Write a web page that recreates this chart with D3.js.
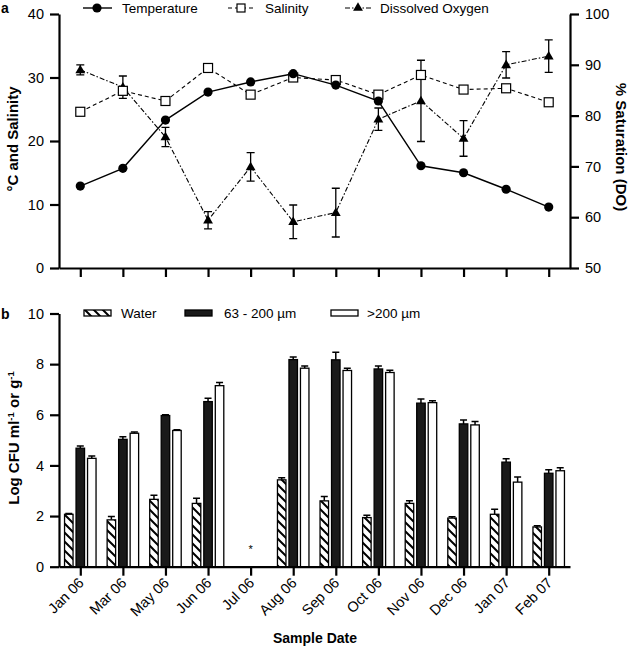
<!DOCTYPE html>
<html><head><meta charset="utf-8">
<script src="https://cdn.jsdelivr.net/npm/d3@7"></script>
<style>
body{margin:0;background:#fff;}
svg text{font-family:"Liberation Sans",Arial,Helvetica,sans-serif;fill:#000;}
</style></head>
<body><svg id="c" width="633" height="647"></svg>
<script>
const categories = ["Jan 06","Mar 06","May 06","Jun 06","Jul 06","Aug 06","Sep 06","Oct 06","Nov 06","Dec 06","Jan 07","Feb 07"];
// Panel a
const temperature = [12.9,15.7,23.3,27.7,29.3,30.6,28.8,26.3,16.1,15.0,12.4,9.6];
const salinity    = [24.6,27.9,26.3,31.5,27.3,30.0,29.6,27.3,30.4,28.1,28.3,26.1];
const dissolvedO2 = [89.0,85.6,75.8,59.4,69.9,59.1,60.9,79.3,82.9,75.5,90.0,91.7];
const dissolvedO2Err = [1.0,2.2,1.9,1.7,2.8,3.3,4.8,2.2,8.0,3.5,2.6,3.2];
const leftTicks = [0,10,20,30,40];
const rightTicks = [50,60,70,80,90,100];
// Panel b (null = not detected)
const water     = [2.07,1.85,2.66,2.50,null,3.43,2.60,1.94,2.50,1.92,2.07,1.57];
const waterErr  = [0.03,0.13,0.16,0.20,null,0.08,0.17,0.09,0.10,0.05,0.20,0.05];
const mid       = [4.68,5.03,5.97,6.52,null,8.18,8.17,7.81,6.46,5.64,4.13,3.69];
const midErr    = [0.09,0.10,0.03,0.13,null,0.10,0.30,0.12,0.16,0.15,0.13,0.14];
const large     = [4.28,5.27,5.38,7.15,null,7.84,7.75,7.67,6.48,5.60,3.34,3.79];
const largeErr  = [0.09,0.05,0.03,0.12,null,0.09,0.09,0.09,0.07,0.13,0.20,0.12];
const bTicks = [0,2,4,6,8,10];

const svg = d3.select("#c");
const FS = 13.5, TFS = 14.5, AFS = 15;
const defs = svg.append("defs");
const pat = defs.append("pattern").attr("id","hatch").attr("patternUnits","userSpaceOnUse")
  .attr("width",9).attr("height",9);
pat.append("rect").attr("width",9).attr("height",9).attr("fill","#fff");
pat.append("path").attr("d","M-2,-2L11,11M-2,7L2,11M7,-2L11,2").attr("stroke","#000").attr("stroke-width",2);

const x = d3.scalePoint().domain(categories).range([59,570]).padding(0.5);

function styleAxis(g){
  g.selectAll(".domain").attr("stroke","#000").attr("stroke-width",2.2);
  g.selectAll(".tick line").attr("stroke","#000").attr("stroke-width",2.2);
  g.selectAll(".tick text").attr("font-size",TFS).style("font-family",'"Liberation Sans",Arial,sans-serif');
}

// ---------- Panel a ----------
const yL = d3.scaleLinear().domain([0,40]).range([268,14]);
const yR = d3.scaleLinear().domain([50,100]).range([268,14]);

svg.append("g").attr("transform","translate(0,268)")
  .call(d3.axisBottom(x).tickSize(9).tickSizeOuter(0).tickFormat(""))
  .call(styleAxis);
svg.append("g").attr("transform","translate(59,0)")
  .call(d3.axisLeft(yL).tickValues(leftTicks).tickSize(9).tickSizeOuter(0).tickPadding(6))
  .call(styleAxis);
svg.append("g").attr("transform","translate(570,0)")
  .call(d3.axisRight(yR).tickValues(rightTicks).tickSize(9).tickSizeOuter(0).tickPadding(6))
  .call(styleAxis);

// DO line
const doLine = d3.line().x((d,i)=>x(categories[i])).y(d=>yR(d));
svg.append("path").datum(dissolvedO2).attr("d",doLine).attr("fill","none")
  .attr("stroke","#000").attr("stroke-width",1.1).attr("stroke-dasharray","5,2,1.5,2");
const eb = svg.append("g");
dissolvedO2.forEach((v,i)=>{
  const cx = x(categories[i]), t = yR(v+dissolvedO2Err[i]), b = yR(v-dissolvedO2Err[i]);
  eb.append("path").attr("d",`M${cx},${t}V${b}M${cx-4},${t}H${cx+4}M${cx-4},${b}H${cx+4}`)
    .attr("stroke","#000").attr("stroke-width",1.3).attr("fill","none");
});
const tri = d3.symbol().type(d3.symbolTriangle).size(42);
svg.append("g").selectAll("path").data(dissolvedO2).join("path")
  .attr("d",tri).attr("transform",(d,i)=>`translate(${x(categories[i])},${yR(d)+0.5})`).attr("fill","#000");

// Salinity
const salLine = d3.line().x((d,i)=>x(categories[i])).y(d=>yL(d));
svg.append("path").datum(salinity).attr("d",salLine).attr("fill","none")
  .attr("stroke","#000").attr("stroke-width",1.1).attr("stroke-dasharray","4,3");
svg.append("g").selectAll("rect").data(salinity).join("rect")
  .attr("x",(d,i)=>x(categories[i])-4.5).attr("y",d=>yL(d)-4.5).attr("width",9).attr("height",9)
  .attr("fill","#fff").attr("stroke","#000").attr("stroke-width",1.2);

// Temperature
svg.append("path").datum(temperature).attr("d",salLine).attr("fill","none")
  .attr("stroke","#000").attr("stroke-width",1.4);
svg.append("g").selectAll("circle").data(temperature).join("circle")
  .attr("cx",(d,i)=>x(categories[i])).attr("cy",d=>yL(d)).attr("r",4.6).attr("fill","#000");

// legend a
const la = svg.append("g");
const ly = 8;
la.append("line").attr("x1",83).attr("x2",112).attr("y1",ly).attr("y2",ly).attr("stroke","#000").attr("stroke-width",1.4);
la.append("circle").attr("cx",97).attr("cy",ly).attr("r",4.6);
la.append("text").attr("x",122).attr("y",ly+5).attr("font-size",FS).text("Temperature");
la.append("line").attr("x1",228).attr("x2",255).attr("y1",ly).attr("y2",ly).attr("stroke","#000").attr("stroke-width",1.1).attr("stroke-dasharray","4,3");
la.append("rect").attr("x",237).attr("y",ly-4).attr("width",8).attr("height",8).attr("fill","#fff").attr("stroke","#000").attr("stroke-width",1.2);
la.append("text").attr("x",265).attr("y",ly+5).attr("font-size",FS).text("Salinity");
la.append("line").attr("x1",345).attr("x2",372).attr("y1",ly).attr("y2",ly).attr("stroke","#000").attr("stroke-width",1.1).attr("stroke-dasharray","5,2,1.5,2");
la.append("path").attr("d",tri).attr("transform",`translate(358,${ly})`);
la.append("text").attr("x",380).attr("y",ly+5).attr("font-size",FS).text("Dissolved Oxygen");

svg.append("text").attr("x",1).attr("y",13).attr("font-size",14).attr("font-weight","bold").text("a");
svg.append("text").attr("transform","translate(18,139) rotate(-90)").attr("text-anchor","middle")
  .attr("font-size",AFS).attr("font-weight","bold").text("°C and Salinity");
svg.append("text").attr("transform","translate(616,147) rotate(90)").attr("text-anchor","middle")
  .attr("font-size",AFS).attr("font-weight","bold").text("% Saturation (DO)");

// ---------- Panel b ----------
const yB = d3.scaleLinear().domain([0,10]).range([566.7,313.5]);
const bw = 8.5, off = 11.5;
const series = [
  {vals:water, err:waterErr, dx:-off, fill:"url(#hatch)"},
  {vals:mid, err:midErr, dx:0, fill:"#1a1a1a"},
  {vals:large, err:largeErr, dx:off, fill:"#fff"}
];
const gb = svg.append("g");
series.forEach(s=>{
  s.vals.forEach((v,i)=>{
    if(v==null) return;
    const cx = x(categories[i])+s.dx;
    const et = yB(v+s.err[i]);
    gb.append("path").attr("d",`M${cx},${yB(v)}V${et}M${cx-3.5},${et}H${cx+3.5}`)
      .attr("stroke","#000").attr("stroke-width",1.5).attr("fill","none");
    gb.append("rect").attr("x",cx-bw/2).attr("y",yB(v)).attr("width",bw).attr("height",yB(0)-yB(v))
      .attr("fill",s.fill).attr("stroke","#000").attr("stroke-width",1.3);
  });
});
svg.append("text").attr("x",x("Jul 06")).attr("y",553).attr("text-anchor","middle").attr("font-size",11).text("*");

svg.append("g").attr("transform","translate(0,566.7)")
  .call(d3.axisBottom(x).tickSize(9).tickSizeOuter(0).tickPadding(4))
  .call(styleAxis)
  .call(g=>g.selectAll(".tick text").attr("text-anchor","end").attr("dy",null)
     .attr("transform","translate(4,17) rotate(-45)").attr("y",0).attr("x",0));
svg.append("g").attr("transform","translate(59,0)")
  .call(d3.axisLeft(yB).tickValues(bTicks).tickSize(9).tickSizeOuter(0).tickPadding(6))
  .call(styleAxis);

// legend b
const lb = svg.append("g");
const lby = 313;
lb.append("rect").attr("x",84).attr("y",lby-3).attr("width",27).attr("height",6).attr("fill","url(#hatch)").attr("stroke","#000").attr("stroke-width",1.3);
lb.append("text").attr("x",121).attr("y",lby+5).attr("font-size",FS).text("Water");
lb.append("rect").attr("x",185).attr("y",lby-3).attr("width",27).attr("height",6).attr("fill","#1a1a1a").attr("stroke","#000").attr("stroke-width",1.3);
lb.append("text").attr("x",224).attr("y",lby+5).attr("font-size",FS).text("63 - 200 µm");
lb.append("rect").attr("x",331).attr("y",lby-3).attr("width",27).attr("height",6).attr("fill","#fff").attr("stroke","#000").attr("stroke-width",1.3);
lb.append("text").attr("x",367).attr("y",lby+5).attr("font-size",FS).text(">200 µm");

svg.append("text").attr("x",1).attr("y",319).attr("font-size",14).attr("font-weight","bold").text("b");
const yt = svg.append("text").attr("transform","translate(19,438) rotate(-90)").attr("text-anchor","middle")
  .attr("font-size",AFS).attr("font-weight","bold");
yt.append("tspan").text("Log CFU ml");
yt.append("tspan").attr("font-size",9.5).attr("dy",-5).text("-1");
yt.append("tspan").attr("dy",5).text(" or g");
yt.append("tspan").attr("font-size",9.5).attr("dy",-5).text("-1");
svg.append("text").attr("x",315).attr("y",643).attr("text-anchor","middle")
  .attr("font-size",14).attr("font-weight","bold").text("Sample Date");
</script></body></html>
